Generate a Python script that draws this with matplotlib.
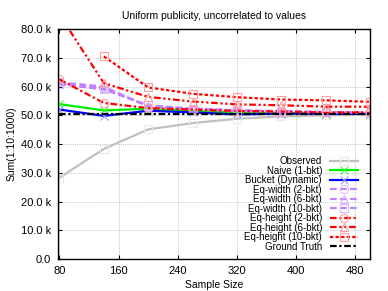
import numpy as np
import matplotlib
matplotlib.use("Agg")
import matplotlib.pyplot as plt
from matplotlib.ticker import FuncFormatter

x = [80, 140, 200, 260, 320, 380, 440, 500]
observed = [28.3, 38.3, 45.1, 47.3, 48.8, 49.6, 50.0, 50.2]
naive = [53.9, 51.7, 52.3, 51.5, 51.0, 50.8, 50.6, 50.5]
bucket = [52.0, 49.8, 51.6, 51.0, 50.3, 50.6, 50.5, 50.5]
ew2 = [61.5, 60.0, 53.0, 52.3, 51.8, 51.5, 51.2, 51.0]
ew6 = [61.0, 59.5, 53.3, 52.0, 51.5, 51.2, 51.0, 50.8]
ew10 = [60.8, 59.0, 53.5, 52.3, 51.7, 51.3, 51.0, 50.8]
eh2 = [62.5, 54.3, 52.5, 52.0, 51.5, 51.3, 51.0, 51.0]
eh6 = [85.0, 61.2, 56.4, 54.8, 53.8, 53.5, 53.0, 53.0]
eh10 = [np.nan, 70.5, 59.7, 57.5, 56.3, 55.5, 55.2, 54.7]
truth = [50.4] * len(x)

plt.rcParams['font.family'] = ['Liberation Sans', 'DejaVu Sans']

fig = plt.figure(figsize=(3.88, 2.91), dpi=100)
ax = fig.add_axes([0.1495, 0.11, 0.804, 0.79])

k = 1000.0
def arr(v):
    return np.array(v, dtype=float) * k

series = [
    ("Observed", observed, "#c0c0c0", "-", "s", "#e8e8e8"),
    ("Naive (1-bkt)", naive, "#00ee00", "-", "x", "#40ff40"),
    ("Bucket (Dynamic)", bucket, "#0000ff", "-", "x", "#a0a0ff"),
    ("Eq-width (2-bkt)", ew2, "#c080ff", (0, (3, 1.5)), "o", "#d8b8ff"),
    ("Eq-width (6-bkt)", ew6, "#c080ff", (0, (3, 1.5)), "^", "#d8b8ff"),
    ("Eq-width (10-bkt)", ew10, "#c080ff", (0, (3, 1.5)), "s", "#d8b8ff"),
    ("Eq-height (2-bkt)", eh2, "#ff0000", (0, (3, 1.2, 1, 1.2)), "o", "#ffa0a0"),
    ("Eq-height (6-bkt)", eh6, "#ff0000", (0, (3, 1.2, 1, 1.2, 1, 1.2)), "^", "#ffa0a0"),
    ("Eq-height (10-bkt)", eh10, "#ff0000", (0, (1.5, 1, 1.5, 1)), "s", "#ffa0a0"),
]

for label, vals, col, ls, mk, mcol in series:
    ax.plot(x, arr(vals), color=col, linestyle=ls, lw=1.6, marker=mk,
            markersize=6, markerfacecolor='none', markeredgecolor=mcol,
            markeredgewidth=0.8, label=label, clip_on=True)
ax.plot(x, arr(truth), color="black", linestyle=(0, (3, 1.2, 1, 1.2)), lw=1.6,
        label="Ground Truth")

ax.set_xlim(78, 500)
ax.set_ylim(0, 80000)
ax.set_xticks([80, 160, 240, 320, 400, 480])
ax.set_yticks(np.arange(0, 80001, 10000))
ax.yaxis.set_major_formatter(FuncFormatter(lambda v, p: "0.0" if v == 0 else f"{v/1000:.1f} k"))
ax.tick_params(direction='in', top=True, right=True, labelsize=8, length=3, pad=5)
ax.grid(True, color="#b0b0b0", linestyle=(0, (1, 1.5)), lw=0.6)
for s in ax.spines.values():
    s.set_linewidth(1.0)

ax.set_title("Uniform publicity, uncorrelated to values", fontsize=7.5, pad=7)
ax.set_xlabel("Sample Size", fontsize=7.5, labelpad=3)
ax.set_ylabel("Sum(1:10:1000)", fontsize=7.5, labelpad=3)

leg = ax.legend(loc="lower right", frameon=False, fontsize=7, markerfirst=False,
                handlelength=2.9, handletextpad=0.8, labelspacing=-0.05,
                borderaxespad=0.35, bbox_to_anchor=(0.985, 0.0))
for t in leg.get_texts():
    t.set_ha('right')

fig.savefig("out.png", dpi=100)
